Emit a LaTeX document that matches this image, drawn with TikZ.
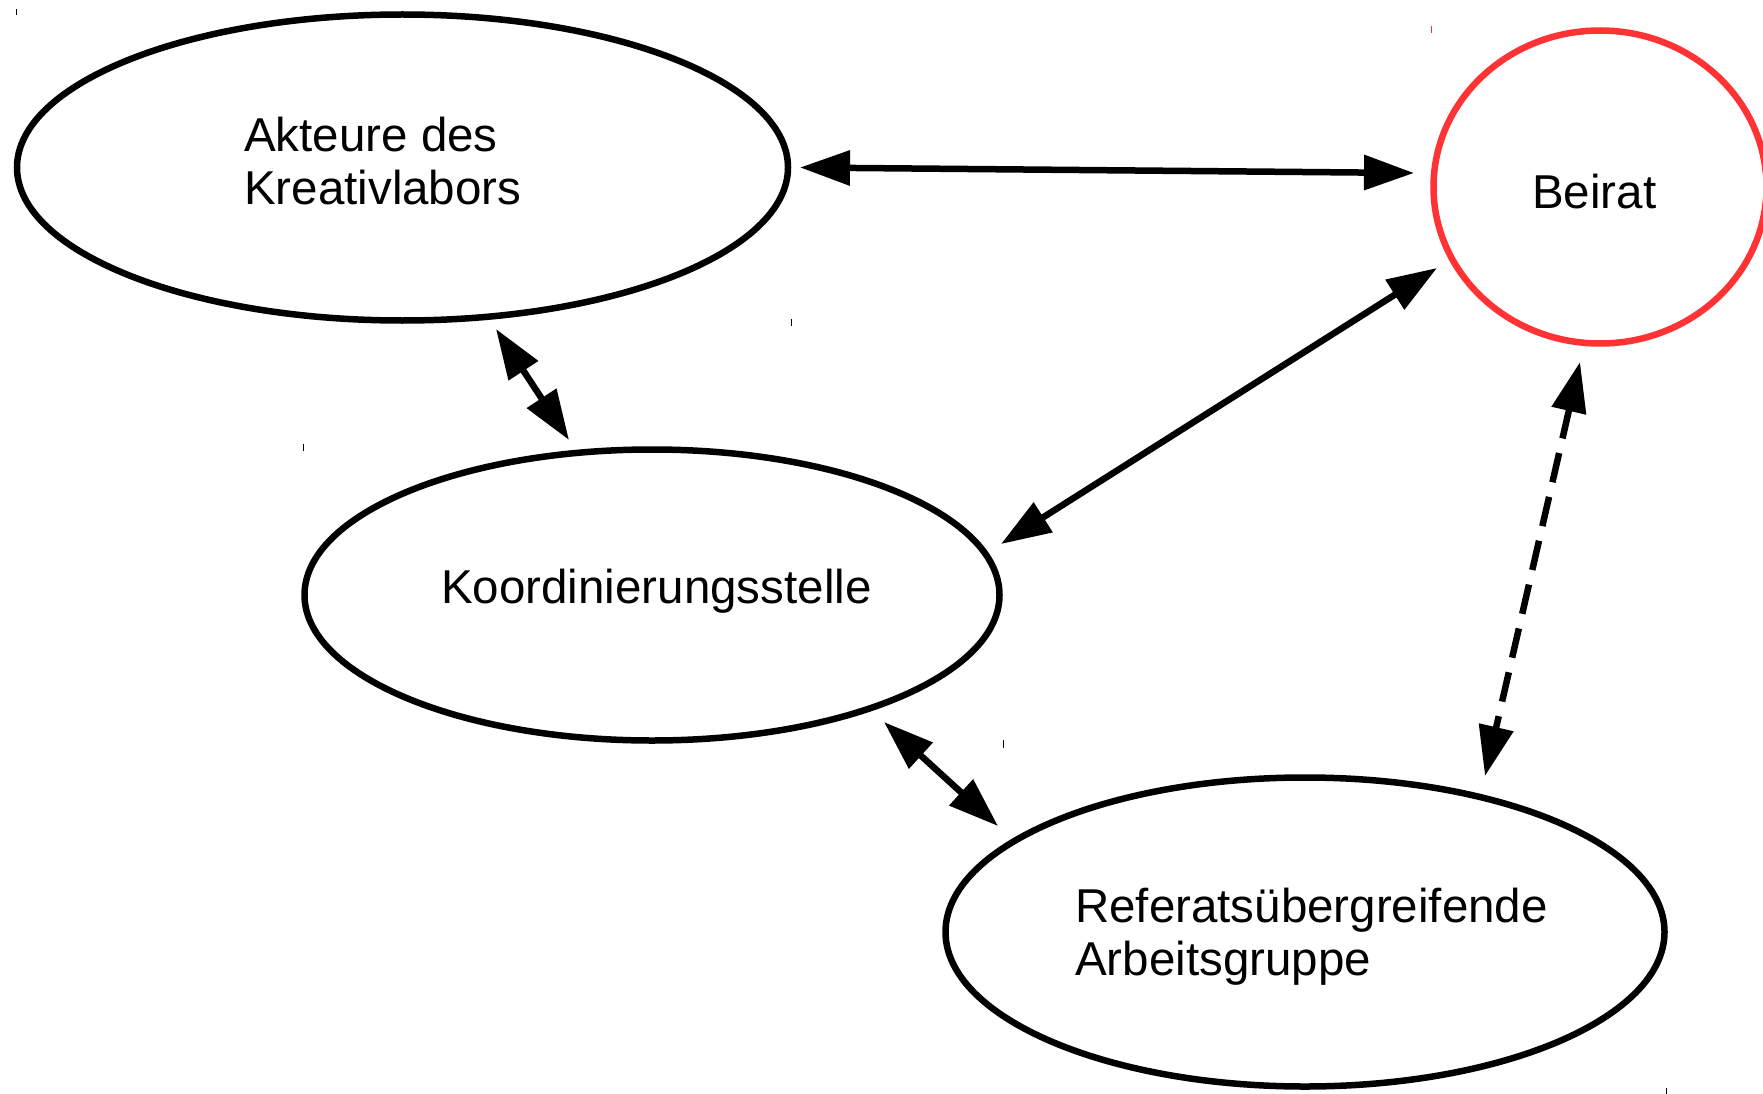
\documentclass[tikz,border=0pt]{standalone}
\usepackage{fontspec}
\setmainfont{Liberation Sans}
\usetikzlibrary{shapes.geometric,arrows.meta}
\definecolor{beiratred}{RGB}{255,51,51}
\begin{document}
\begin{tikzpicture}[x=1pt,y=-1pt,
  oval/.style={draw=black,line width=6.5pt,ellipse,inner sep=0pt,fill=none},
  lbl/.style={anchor=base west,inner sep=0pt,font=\fontsize{47.5}{53}\selectfont},
  link/.style={line width=6.5pt,{Triangle[length=50pt,width=34pt]}-{Triangle[length=50pt,width=34pt]}},
  dlink/.style={link,dash pattern=on 30pt off 15pt},
  tick/.style={line width=1pt}]
\useasboundingbox (0,0) rectangle (1763,1094);
\fill[white] (0,0) rectangle (1763,1094);
% ellipses
\node[oval,minimum width=771pt,minimum height=306pt] (akt) at (402.5,167.5) {};
\node[oval,draw=beiratred,minimum width=333pt,minimum height=313pt] (bei) at (1600,187) {};
\node[oval,minimum width=695pt,minimum height=291pt] (koo) at (652,595) {};
\node[oval,minimum width=719pt,minimum height=309pt] (ref) at (1305,932) {};
% labels
\node[lbl] (takt) at (244,152) {\begin{tabular}[t]{@{}l@{}}Akteure des\\Kreativlabors\end{tabular}};
\node[lbl] (tbei) at (1532,208) {Beirat};
\node[lbl] (tkoo) at (441,603) {Koordinierungsstelle};
\node[lbl] (tref) at (1075,922) {\begin{tabular}[t]{@{}l@{}}Referats\"ubergreifende\\Arbeitsgruppe\end{tabular}};
% arrow end points
\coordinate (a1) at (800,167.5);
\coordinate (b1) at (1414,173);
\coordinate (a2) at (496,329);
\coordinate (k2) at (569,440);
\coordinate (b3) at (1437,268);
\coordinate (k3) at (1001,544);
\coordinate (k4) at (884,722);
\coordinate (r4) at (998,826);
\coordinate (b5) at (1580,362);
\coordinate (r5) at (1485,776);
\draw[link] (a1) -- (b1);
\draw[link] (a2) -- (k2);
\draw[link] (b3) -- (k3);
\draw[link] (k4) -- (r4);
\draw[dlink] (b5) -- (r5);
% small corner marks
\draw[tick] (16,9) -- (16,15);
\draw[tick,beiratred] (1431,26) -- (1431,33);
\draw[tick] (791.5,319) -- (791.5,326);
\draw[tick] (303.5,444) -- (303.5,451);
\draw[tick] (1003,740) -- (1003,748);
\draw[tick] (1666,1088) -- (1666,1094);
\end{tikzpicture}
\end{document}
